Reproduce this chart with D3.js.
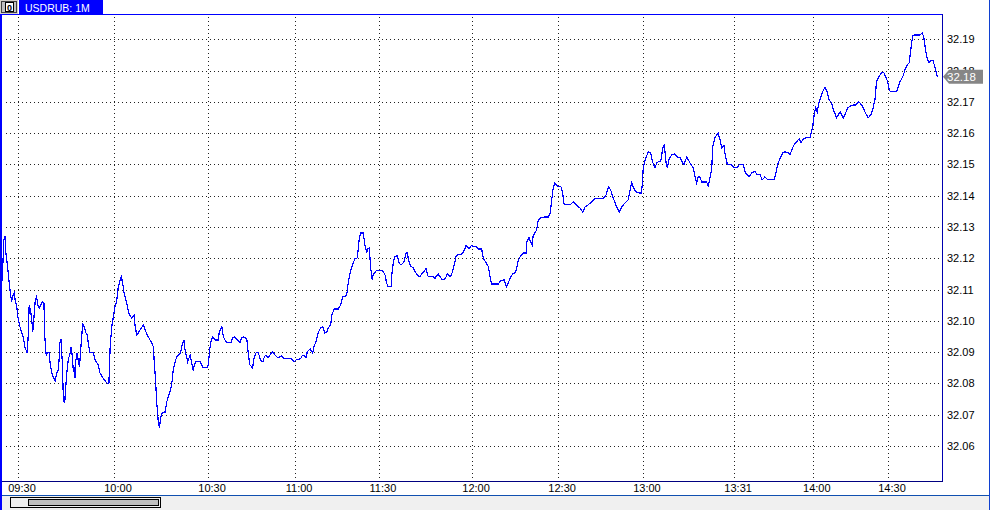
<!DOCTYPE html>
<html><head><meta charset="utf-8">
<script src="https://cdn.jsdelivr.net/npm/d3@7"></script>
<style>html,body{margin:0;padding:0;background:#fff;overflow:hidden}svg{display:block;font-family:"Liberation Sans",Arial,sans-serif}</style>
</head><body><svg id="c" width="990" height="510"></svg>
<script>
const symbolTitle = "USDRUB: 1M";
const bars = [
-6,-5.1,-4.8,-4.4,-4.1,-3.8,-3.5,-3.0,-2.5,-2.0,
-1.5,-1.2,-0.9,-0.4,0.1,0.6,1.2,1.7,2.2,2.9,
3.2,3.5,4.0,4.3,4.6,5.0,5.4,5.8,6.2,6.7,
7.1,7.7,8.1,8.4,8.8,9.2,9.7,10.0,10.5,11.0,
11.6,12.1,12.6,12.9,13.1,13.4,13.8,14.2,14.6,14.9,
15.4,15.7,16.3,16.6,17.0,17.3,17.6,17.8,18.1,18.5,
18.8,19.2,19.6,19.9,20.2,20.6,21.2,21.7,22.0,22.5,
23.5,24.1,25.1,25.6,26.7,27.7,28.4,28.8,29.3,29.8,
30.3,30.8,31.3,31.9,32.3,32.7,33.1,33.7,34.2,34.8,
35.5,36.3,36.6,37.1,37.6,38.3,39.2,39.7,40.7,41.8,
42.3,42.6,43.0,43.3,43.8,44.2,44.6,45.1,45.9,46.5,
47.0,47.7,48.2,48.5,49.1,49.6,50.1,50.8,51.3,51.9,
52.2,52.7,53.0,53.8,54.3,54.8,55.1,55.6,56.9,57.4,
57.9,59.0,59.5,59.8,60.2,60.8,61.6,62.6,62.9,63.7,
64.2,64.7,65.4,66.5,67.1,67.8,68.5,69.4,69.9,70.6,
71.5,72.0,72.5,73.3,73.8,74.4,75.1,75.8,76.5,77.0,
77.5,78.2,78.8,79.5,80.3,81.2,81.9,82.4,83.1,85.5,
86.3,86.9,88.3,88.8,89.4,90.0,90.4,91.3,92.1,92.5,
93.1,93.8,94.6,95.2,95.9,96.5,97.0,97.7,98.1,98.8,
100.1,100.8,101.5,102.7,103.2,103.8,104.5,105.3,106.0,106.3,
106.7,107.1,107.9,108.4,109.0,109.3,109.8,110.0,110.3,110.7,
111.0,111.9,114.0,114.7,115.2,115.7,116.6,116.8,117.3,117.8,
118.5,119.1,119.7,120.6,121.3,121.7,122.0,122.7,123.5,124.4,
125.1,125.6,126.2,126.9,127.5,127.9,128.2,129.3,129.8,130.3,
130.8,131.3,131.9,132.4,133.1,133.8,134.2,134.8,135.2,135.8,
136.3,136.9,137.4,138.3,139.0,139.5,140.0,140.5,141.0,141.6,
143.3,143.8,144.9,145.4,146.3,147.0,147.5,148.0,150.1,150.8,
151.9,152.7,153.2,154.0,154.6,155.3,155.8,156.3,157.1,157.9,
158.8,159.0,159.7,160.2,160.7,161.0,162.1,162.6,163.3,164.5,
165.7,166.3,166.8,167.3,167.8,168.5,169.7,170.2,170.7,172.5,
173.5,174.4,175.6,176.5,177.2,178.2,179.3,180.3,182.9,183.8,
184.5,185.2,186.0,187.1,187.9,188.7,189.7,190.7,191.3,191.8,
192.3,193.1,194.2,194.9,195.4,196.2,197.0,197.7,198.3,199.1,
199.6,200.1,200.9,201.5,202.0,202.5,202.9,203.5,204.3,205.3,
206.0,206.9,207.7,208.1,209.0,210.0,211.0,211.6,212.1,212.6,
213.1,213.7,215.2,215.7,216.3,216.8,217.1,217.8,218.8,219.4,
219.9,220.6,220.9,221.7,223.0,223.8,224.8,225.4,226.7,227.2,
227.9,228.5,229.3,230.3,231.0,231.9,232.6,233.4,234.3,236.3,
236.9,237.6,238.1,239.0,239.7,240.7,241.3,241.8,242.5,243.3,
244.1,244.7,245.4,246.2,247.5,248.0,248.3,248.8,249.3,249.8,
250.3,250.9,251.7,252.2,252.9,253.5,254.3,254.8,255.3,255.8,
256.3,256.9,257.4,257.9,258.4,259.3,260.3,261.0,261.9,262.6,
263.1,264.0,264.7,265.2,265.7,266.5,267.1,267.8,268.3,269.2,
269.9,270.6,271.3,271.8,272.3,272.7,274.6,275.1,275.6,276.5,
277.2,277.9,278.5,279.0,279.6,280.3,281.9,282.6,283.1,283.7,
284.3,284.7,285.2,286.0,286.6,287.3
];
const closes = [
32.1121,32.1115,32.1166,32.1259,32.1272,32.1217,32.1195,32.1147,32.1099,32.1061,
32.1083,32.1089,32.1067,32.1045,32.1003,32.0981,32.0962,32.0946,32.0914,32.0898,
32.0955,32.1051,32.1026,32.1003,32.0965,32.1013,32.1067,32.1077,32.1051,32.1041,
32.1051,32.1061,32.1057,32.0946,32.0891,32.0898,32.0898,32.0869,32.0837,32.0821,
32.0808,32.0834,32.0843,32.0885,32.0930,32.0942,32.0875,32.0747,32.0738,32.0786,
32.0850,32.0875,32.0898,32.0917,32.0885,32.0837,32.0853,32.0818,32.0875,32.0898,
32.0875,32.0853,32.0907,32.0949,32.0990,32.0984,32.0962,32.0955,32.0923,32.0898,
32.0898,32.0875,32.0859,32.0834,32.0815,32.0802,32.0799,32.0917,32.0981,32.1013,
32.1045,32.1061,32.1105,32.1131,32.1141,32.1121,32.1093,32.1067,32.1045,32.1019,
32.1010,32.1019,32.0984,32.0955,32.0962,32.0974,32.0987,32.0971,32.0949,32.0930,
32.0917,32.0866,32.0811,32.0747,32.0683,32.0658,32.0690,32.0706,32.0706,32.0741,
32.0760,32.0779,32.0811,32.0843,32.0869,32.0885,32.0891,32.0898,32.0923,32.0939,
32.0907,32.0885,32.0869,32.0891,32.0866,32.0840,32.0859,32.0869,32.0869,32.0859,
32.0850,32.0850,32.0859,32.0898,32.0930,32.0949,32.0939,32.0939,32.0965,32.0981,
32.0949,32.0939,32.0930,32.0930,32.0946,32.0949,32.0939,32.0930,32.0946,32.0949,
32.0942,32.0891,32.0859,32.0850,32.0882,32.0898,32.0898,32.0875,32.0869,32.0885,
32.0891,32.0882,32.0891,32.0901,32.0891,32.0882,32.0885,32.0888,32.0879,32.0879,
32.0869,32.0875,32.0879,32.0888,32.0891,32.0882,32.0901,32.0910,32.0898,32.0917,
32.0933,32.0962,32.0978,32.0981,32.0962,32.0965,32.0978,32.0987,32.1019,32.1038,
32.1038,32.1051,32.1077,32.1080,32.1121,32.1153,32.1179,32.1198,32.1201,32.1227,
32.1268,32.1281,32.1281,32.1243,32.1220,32.1230,32.1233,32.1201,32.1163,32.1131,
32.1147,32.1160,32.1160,32.1147,32.1121,32.1109,32.1109,32.1144,32.1188,32.1205,
32.1208,32.1185,32.1179,32.1188,32.1217,32.1217,32.1195,32.1176,32.1169,32.1153,
32.1144,32.1141,32.1150,32.1157,32.1169,32.1153,32.1141,32.1141,32.1141,32.1134,
32.1144,32.1150,32.1141,32.1134,32.1131,32.1141,32.1150,32.1144,32.1141,32.1157,
32.1179,32.1205,32.1211,32.1211,32.1217,32.1227,32.1240,32.1237,32.1230,32.1240,
32.1237,32.1230,32.1230,32.1201,32.1185,32.1173,32.1141,32.1118,32.1118,32.1128,
32.1131,32.1109,32.1121,32.1141,32.1150,32.1153,32.1166,32.1192,32.1208,32.1217,
32.1217,32.1252,32.1268,32.1252,32.1243,32.1272,32.1291,32.1323,32.1329,32.1332,
32.1332,32.1345,32.1387,32.1428,32.1441,32.1431,32.1428,32.1409,32.1371,32.1371,
32.1380,32.1371,32.1361,32.1348,32.1364,32.1371,32.1380,32.1390,32.1390,32.1403,
32.1428,32.1419,32.1393,32.1364,32.1348,32.1364,32.1377,32.1387,32.1419,32.1441,
32.1428,32.1412,32.1409,32.1409,32.1489,32.1521,32.1540,32.1537,32.1508,32.1489,
32.1505,32.1508,32.1511,32.1553,32.1562,32.1508,32.1489,32.1518,32.1531,32.1534,
32.1524,32.1521,32.1505,32.1499,32.1524,32.1505,32.1489,32.1460,32.1441,32.1460,
32.1460,32.1444,32.1444,32.1431,32.1460,32.1483,32.1556,32.1585,32.1601,32.1579,
32.1553,32.1562,32.1537,32.1499,32.1499,32.1489,32.1489,32.1499,32.1499,32.1476,
32.1467,32.1460,32.1473,32.1479,32.1467,32.1467,32.1451,32.1460,32.1451,32.1451,
32.1476,32.1505,32.1518,32.1537,32.1540,32.1537,32.1531,32.1546,32.1562,32.1572,
32.1582,32.1569,32.1582,32.1585,32.1585,32.1604,32.1617,32.1658,32.1681,32.1668,
32.1697,32.1716,32.1738,32.1745,32.1732,32.1706,32.1697,32.1674,32.1665,32.1649,
32.1658,32.1668,32.1658,32.1649,32.1658,32.1681,32.1687,32.1690,32.1690,32.1700,
32.1697,32.1684,32.1668,32.1658,32.1649,32.1658,32.1674,32.1706,32.1764,32.1783,
32.1793,32.1793,32.1777,32.1764,32.1738,32.1732,32.1732,32.1748,32.1764,32.1780,
32.1802,32.1818,32.1825,32.1866,32.1911,32.1914,32.1914,32.1921,32.1905,32.1860,
32.1834,32.1825,32.1831,32.1831,32.1809,32.1780
];
const priceTicks = [32.06,32.07,32.08,32.09,32.10,32.11,32.12,32.13,32.14,32.15,32.16,32.17,32.18,32.19];
const timeTickBars = [0,30,59.4,86.6,112.8,141.9,168.8,195.3,223.8,248.4,271.9];
const timeTickLabels = ["09:30","10:00","10:30","11:00","11:30","12:00","12:30","13:00","13:31","14:00","14:30"];

const W = 990, H = 510;
const plot = {left: 2, right: 942, top: 14, bottom: 481};
const svg = d3.select("#c");

const x = d3.scaleLinear().domain([0, 287.3]).range([18, 937.3]);
const y = d3.scaleLinear().domain([32.06, 32.19]).range([446, 39.3]);
const px = v => Math.round(v) + 0.5;

svg.append("rect").attr("x",0).attr("y",0).attr("width",W).attr("height",H).attr("fill","#fff");

// gridlines
const grid = svg.append("g").attr("shape-rendering","crispEdges");
grid.selectAll("line.h").data(priceTicks).join("line")
  .attr("x1", 6).attr("x2", 940)
  .attr("y1", d => px(y(d))).attr("y2", d => px(y(d)))
  .attr("stroke","#222").attr("stroke-dasharray","1,3");
grid.selectAll("line.v").data(timeTickBars).join("line")
  .attr("x1", d => px(x(d))).attr("x2", d => px(x(d)))
  .attr("y1", 17).attr("y2", 480)
  .attr("stroke","#222").attr("stroke-dasharray","1,3");

// clip and line
svg.append("clipPath").attr("id","pc").append("rect")
  .attr("x", plot.left).attr("y", plot.top+1).attr("width", plot.right-plot.left).attr("height", plot.bottom-plot.top-1);
const pts = bars.map((b,i) => [b, closes[i]]);
svg.append("path").datum(pts)
  .attr("clip-path","url(#pc)")
  .attr("fill","none").attr("stroke","#0000ff").attr("stroke-width",1.2)
  .attr("shape-rendering","crispEdges")
  .attr("d", d3.line().x(d => x(d[0])).y(d => y(d[1])));

// frame
const fr = svg.append("g").attr("shape-rendering","crispEdges");
fr.append("line").attr("x1",0).attr("x2",plot.right+0.5).attr("y1",14.5).attr("y2",14.5).attr("stroke","#0000ff").attr("stroke-width",1.5);
fr.append("line").attr("x1",plot.right+0.5).attr("x2",plot.right+0.5).attr("y1",14).attr("y2",481).attr("stroke","#0000b0");
fr.append("line").attr("x1",0).attr("x2",plot.right+1).attr("y1",481.5).attr("y2",481.5).attr("stroke","#000080");
fr.append("rect").attr("x",0).attr("y",496).attr("width",W).attr("height",14).attr("fill","#f0f0f0");
fr.append("line").attr("x1",0).attr("x2",W).attr("y1",495.5).attr("y2",495.5).attr("stroke","#1050b0");
fr.append("line").attr("x1",989.5).attr("x2",989.5).attr("y1",0).attr("y2",H).attr("stroke","#1040d0");
fr.append("rect").attr("x",0).attr("y",0).attr("width",2).attr("height",H).attr("fill","#0000ff");

// price labels
svg.append("g").selectAll("text").data(priceTicks).join("text")
  .attr("x", 947).attr("y", d => y(d)).attr("dy","0.36em")
  .attr("font-size","11px").attr("fill","#000")
  .text(d => d3.format(".2f")(d));

// time labels
svg.append("g").selectAll("text").data(timeTickBars).join("text")
  .attr("x", d => x(d) + 4).attr("y", 492)
  .attr("text-anchor","middle").attr("font-size","11px").attr("fill","#000")
  .text((d,i) => timeTickLabels[i]);

// last price marker
const last = closes[closes.length-1];
const ly = y(last);
svg.append("path")
  .attr("d", `M943,${ly} L949,${ly-7} L983,${ly-7} L983,${ly+7} L949,${ly+7} Z`)
  .attr("fill","#868686");
svg.append("text").attr("x",947).attr("y",ly).attr("dy","0.36em")
  .attr("font-size","11.5px").attr("fill","#fff").text(d3.format(".2f")(last));

// header tab
const hd = svg.append("g").attr("shape-rendering","crispEdges");
hd.append("rect").attr("x",0).attr("y",0).attr("width",18).attr("height",14).attr("fill","#d4d0c8");
hd.append("rect").attr("x",1.5).attr("y",1.5).attr("width",15).attr("height",11).attr("fill","#c0c0c0").attr("stroke","#404040");
hd.append("rect").attr("x",5.5).attr("y",2.5).attr("width",8).attr("height",9).attr("fill","#fff").attr("stroke","#000");
hd.append("text").attr("x",9.5).attr("y",10.5).attr("text-anchor","middle").attr("font-size","9px").attr("font-weight","bold").attr("fill","#000").text("0");
hd.append("rect").attr("x",19).attr("y",0).attr("width",84).attr("height",15).attr("fill","#0000ff");
hd.append("text").attr("x",25).attr("y",12).attr("font-size","10.5px").attr("fill","#fff").text(symbolTitle);

// scrollbar
const sb = svg.append("g").attr("shape-rendering","crispEdges");
sb.append("rect").attr("x",10.5).attr("y",497.5).attr("width",150).attr("height",10).attr("fill","#f0f0f0").attr("stroke","#000");
sb.append("rect").attr("x",28.5).attr("y",499.5).attr("width",130).attr("height",6).attr("fill","#c0c0c0").attr("stroke","#000");
</script></body></html>
